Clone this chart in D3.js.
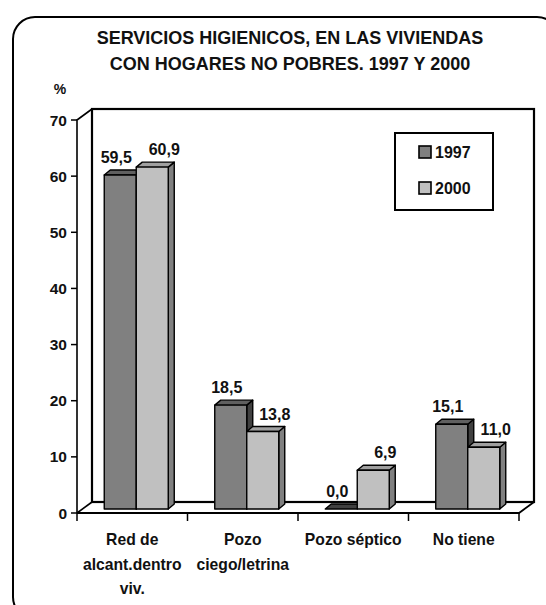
<!DOCTYPE html>
<html>
<head>
<meta charset="utf-8">
<script src="https://cdn.jsdelivr.net/npm/d3@7"></script>
<style>
  body { margin: 0; background: #fff; }
  svg text { font-family: "Liberation Sans", Arial, sans-serif; font-weight: bold; fill: #111; }
</style>
</head>
<body>
<div id="chart"></div>
<script>
const categories = [["Red de", "alcant.dentro", "viv."], ["Pozo", "ciego/letrina"], ["Pozo séptico"], ["No tiene"]];
const seriesNames = ["1997", "2000"];
const values1997 = [59.5, 18.5, 0.0, 15.1];
const values2000 = [60.9, 13.8, 6.9, 11.0];
const yTicks = [0, 10, 20, 30, 40, 50, 60, 70];

const W = 546, H = 605;
const COLORS = {
  "1997": { front: "#808080", top: "#606060", side: "#404040" },
  "2000": { front: "#c0c0c0", top: "#a0a0a0", side: "#808080" },
};
const WALL = { dx: 15, dy: -11 };   // depth of the chart box
const BAR = { dx: 6, dy: -5 };      // depth of each bar
const BAR_SHIFT = { dx: 4, dy: -4 }; // bars sit a little inside the floor
const fmt = (v) => d3.format(".1f")(v).replace(".", ",");

const svg = d3.select("#chart").append("svg")
  .attr("width", W).attr("height", H);

// —— Outer rounded frame ——
svg.append("rect")
  .attr("x", 13).attr("y", 17)
  .attr("width", 546).attr("height", 602)
  .attr("rx", 22).attr("ry", 22)
  .attr("fill", "none").attr("stroke", "#000").attr("stroke-width", 2);

// —— Title ——
const title = svg.append("text").attr("text-anchor", "middle").style("font-size", "18px");
title.append("tspan").attr("x", 290).attr("y", 44).text("SERVICIOS HIGIENICOS, EN LAS VIVIENDAS");
title.append("tspan").attr("x", 290).attr("y", 70).text("CON HOGARES NO POBRES. 1997 Y 2000");

svg.append("text").attr("x", 60).attr("y", 94).attr("text-anchor", "middle")
  .style("font-size", "14px").text("%");

// —— Scales ——
const x0 = d3.scaleBand().domain(d3.range(categories.length)).range([77, 519]).padding(0);
const x1 = d3.scaleBand().domain(seriesNames).range([-32, 32]).padding(0);
const y = d3.scaleLinear().domain([0, 70]).range([513, 120]);

const [xl, xr] = x0.range();
const [yb, yt] = y.range();
const line = (g, pts, w) => g.append("path")
  .attr("d", d3.line()(pts)).attr("fill", "none")
  .attr("stroke", "#000").attr("stroke-width", w).attr("stroke-linejoin", "miter");

// —— Walls & floor ——
const box = svg.append("g").attr("class", "box");
// back wall
box.append("rect")
  .attr("x", xl + WALL.dx).attr("y", yt + WALL.dy)
  .attr("width", xr - xl).attr("height", yb - yt)
  .attr("fill", "#fff").attr("stroke", "#000").attr("stroke-width", 2.2);
// left side wall
line(box, [[xl, yb], [xl, yt], [xl + WALL.dx, yt + WALL.dy]], 1.6);
// floor
line(box, [[xl, yb], [xr, yb], [xr + WALL.dx, yb + WALL.dy]], 1.8);
line(box, [[xl, yb], [xl + WALL.dx, yb + WALL.dy]], 1.6);

// y ticks
const yAxis = svg.append("g");
yTicks.forEach((t) => {
  line(yAxis, [[xl - 6, y(t)], [xl, y(t)]], 1.5);
  yAxis.append("text").attr("x", xl - 10).attr("y", y(t)).attr("dy", "0.36em")
    .attr("text-anchor", "end").style("font-size", "15.5px").text(t);
});

// x ticks + category labels
const xAxis = svg.append("g");
d3.range(categories.length + 1).forEach((i) => {
  const xx = xl + i * x0.bandwidth();
  line(xAxis, [[xx, yb], [xx, yb + 8]], 1.5);
});
categories.forEach((lines, i) => {
  const t = xAxis.append("text").attr("text-anchor", "middle").style("font-size", "15.7px");
  lines.forEach((s, j) => {
    t.append("tspan").attr("x", x0(i) + x0.bandwidth() / 2).attr("y", 545 + j * 24.5).text(s);
  });
});

// —— Bars ——
const bars = svg.append("g");
const seriesData = { "1997": values1997, "2000": values2000 };
categories.forEach((_, i) => {
  seriesNames.forEach((s) => {
    const v = seriesData[s][i];
    const c = COLORS[s];
    const x = x0(i) + x0.bandwidth() / 2 + x1(s) + BAR_SHIFT.dx;
    const w = x1.bandwidth();
    const base = y(0) + BAR_SHIFT.dy;
    const top = y(v) + BAR_SHIFT.dy;
    const poly = (pts, fill) => bars.append("polygon")
      .attr("points", pts.map((p) => p.join(",")).join(" "))
      .attr("fill", fill).attr("stroke", "#000").attr("stroke-width", 1.4)
      .attr("stroke-linejoin", "round");
    if (v > 0) {
      poly([[x + w, base], [x + w, top], [x + w + BAR.dx, top + BAR.dy], [x + w + BAR.dx, base + BAR.dy]], c.side);
      poly([[x, top], [x + BAR.dx, top + BAR.dy], [x + w + BAR.dx, top + BAR.dy], [x + w, top]], c.top);
      poly([[x, base], [x, top], [x + w, top], [x + w, base]], c.front);
    } else {
      poly([[x, top], [x + BAR.dx, top + BAR.dy], [x + w + BAR.dx, top + BAR.dy], [x + w, top]], c.side);
    }
    const labelX = x + w / 2 + (s === "1997" ? -4 : 12);
    bars.append("text").attr("x", labelX).attr("y", top - 12)
      .attr("text-anchor", "middle").style("font-size", "16px").text(fmt(v));
  });
});

// —— Legend ——
const legend = svg.append("g");
legend.append("rect").attr("x", 395).attr("y", 133).attr("width", 98).attr("height", 77)
  .attr("fill", "#fff").attr("stroke", "#000").attr("stroke-width", 2);
seriesNames.forEach((s, i) => {
  const ly = 152 + i * 36;
  legend.append("rect").attr("x", 419).attr("y", ly - 6).attr("width", 12).attr("height", 12)
    .attr("fill", COLORS[s].front).attr("stroke", "#000").attr("stroke-width", 1.6);
  legend.append("text").attr("x", 435).attr("y", ly).attr("dy", "0.36em")
    .style("font-size", "16px").text(s);
});
</script>
</body>
</html>
